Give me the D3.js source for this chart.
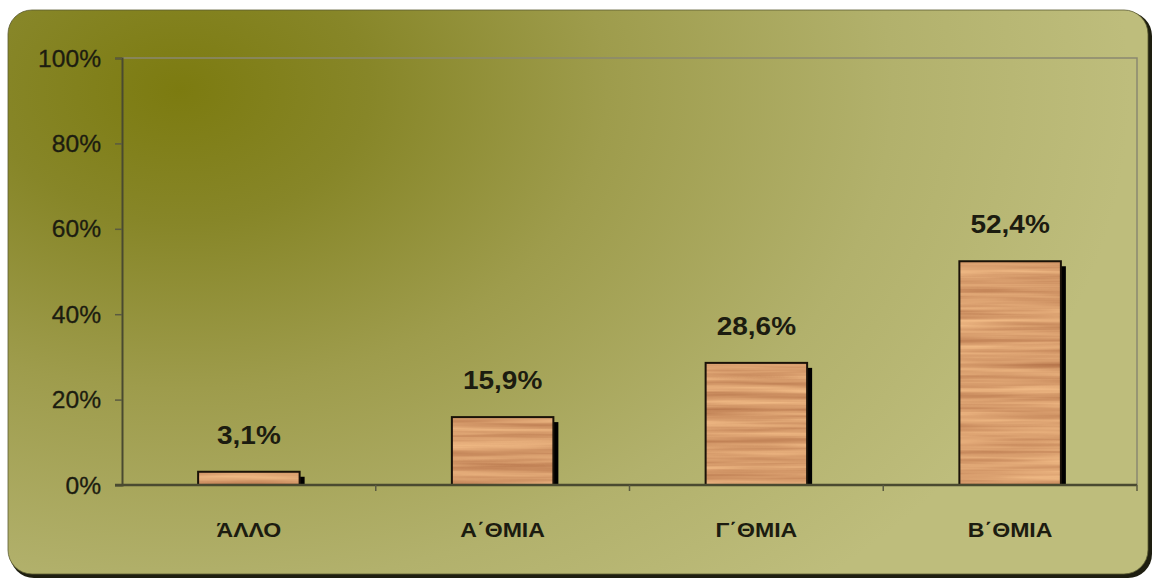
<!DOCTYPE html>
<html>
<head>
<meta charset="utf-8">
<script src="https://cdn.jsdelivr.net/npm/d3@7"></script>
<style>
  body { margin: 0; background: #fff; }
  svg { display: block; }
</style>
</head>
<body>
<div id="chart"></div>
<script>
// chart data
var categories = ['ΆΛΛΟ', 'Α΄ΘΜΙΑ', 'Γ΄ΘΜΙΑ', 'Β΄ΘΜΙΑ'];
var values = [3.1, 15.9, 28.6, 52.4];
var valueLabels = ['3,1%', '15,9%', '28,6%', '52,4%'];
var yTicks = [0, 20, 40, 60, 80, 100];

var width = 1158, height = 580;
var margin = {left: 122, right: 21, top: 58, bottom: 95};
var font = 'Liberation Sans, Arial, sans-serif';

var svg = d3.select('#chart').append('svg')
  .attr('width', width).attr('height', height);

var defs = svg.append('defs');

// olive background, dark in the upper left
var bg = defs.append('radialGradient').attr('id', 'bgGrad')
  .attr('gradientUnits', 'userSpaceOnUse')
  .attr('cx', 180).attr('cy', 90).attr('r', 950)
  .attr('gradientTransform', 'translate(180,90) scale(1,0.7) translate(-180,-90)');
bg.append('stop').attr('offset', 0).attr('stop-color', '#7c7b10');
bg.append('stop').attr('offset', 0.2).attr('stop-color', '#878628');
bg.append('stop').attr('offset', 0.45).attr('stop-color', '#9e9c4c');
bg.append('stop').attr('offset', 0.75).attr('stop-color', '#b2b16c');
bg.append('stop').attr('offset', 1).attr('stop-color', '#bebd7c');

// wood grain
var wood = defs.append('filter').attr('id', 'wood')
  .attr('x', 0).attr('y', 0).attr('width', 1).attr('height', 1)
  .attr('color-interpolation-filters', 'sRGB');
wood.append('feTurbulence').attr('type', 'fractalNoise')
  .attr('baseFrequency', '0.005 0.16').attr('numOctaves', 3).attr('seed', 7)
  .attr('result', 'noise');
wood.append('feColorMatrix').attr('in', 'noise').attr('type', 'matrix')
  .attr('values', '0.32 0 0 0 0.69  0.38 0 0 0 0.43  0.32 0 0 0 0.27  0 0 0 0 1')
  .attr('result', 'grain');
wood.append('feComposite').attr('in', 'grain').attr('in2', 'SourceGraphic')
  .attr('operator', 'in');

// panel with shadow edge
svg.append('rect')
  .attr('x', 10).attr('y', 12).attr('width', 1142).attr('height', 566)
  .attr('rx', 24).attr('fill', '#1e1e10');
svg.append('rect')
  .attr('x', 8).attr('y', 10).attr('width', 1140).attr('height', 564)
  .attr('rx', 24).attr('fill', 'url(#bgGrad)')
  .attr('stroke', '#5a5a30').attr('stroke-width', 0.8);

var x = d3.scaleBand().domain(categories)
  .range([margin.left, width - margin.right]).paddingInner(0.6).paddingOuter(0.3);
var xb = d3.scaleBand().domain(categories)
  .range([margin.left, width - margin.right]);
var y = d3.scaleLinear().domain([0, 100]).range([height - margin.bottom, margin.top]);

// plot frame (top and right)
svg.append('path')
  .attr('d', 'M' + margin.left + ',' + y(100) + 'H' + (width - margin.right) + 'V' + y(0))
  .attr('fill', 'none').attr('stroke', '#8a8870').attr('stroke-width', 1.5);

// bars: shadow then textured body
var bars = svg.append('g');
bars.selectAll('rect.shadow').data(values).enter().append('rect')
  .attr('class', 'shadow')
  .attr('x', (d, i) => x(categories[i]) + 5)
  .attr('y', d => y(d) + 5)
  .attr('width', x.bandwidth())
  .attr('height', d => y(0) - y(d) - 5)
  .attr('fill', '#000');
bars.selectAll('rect.body').data(values).enter().append('rect')
  .attr('class', 'body')
  .attr('x', (d, i) => x(categories[i]))
  .attr('y', d => y(d))
  .attr('width', x.bandwidth())
  .attr('height', d => y(0) - y(d))
  .attr('fill', '#d8a070').attr('filter', 'url(#wood)');
bars.selectAll('rect.edge').data(values).enter().append('rect')
  .attr('class', 'edge')
  .attr('x', (d, i) => x(categories[i]))
  .attr('y', d => y(d))
  .attr('width', x.bandwidth())
  .attr('height', d => y(0) - y(d))
  .attr('fill', 'none').attr('stroke', '#1a1208').attr('stroke-width', 2);

// value labels (slightly wide, like the source)
svg.selectAll('text.val').data(values).enter().append('text')
  .attr('class', 'val')
  .attr('transform', (d, i) => 'translate(' + (x(categories[i]) + x.bandwidth() / 2) + ',' + (y(d) - 28) + ') scale(1.12,1)')
  .attr('text-anchor', 'middle')
  .attr('font-family', font)
  .attr('font-size', '25px').attr('font-weight', 'bold').attr('fill', '#1c1c10')
  .text((d, i) => valueLabels[i]);

// y axis
var yAxis = svg.append('g')
  .attr('transform', 'translate(' + margin.left + ',0)')
  .call(d3.axisLeft(y).tickValues(yTicks).tickFormat(d => d + '%').tickSize(7).tickPadding(0));
yAxis.select('.domain').attr('stroke', '#4a4a30').attr('stroke-width', 2);
yAxis.selectAll('.tick line').attr('stroke', '#5a5a40').attr('stroke-width', 1.5);
yAxis.selectAll('.tick text')
  .attr('x', null).attr('dy', null)
  .attr('transform', 'translate(-21,8) scale(1.07,1)')
  .attr('font-family', font)
  .attr('font-size', '23px').attr('fill', '#1c1c10')
  .attr('stroke', '#1c1c10').attr('stroke-width', 0.3);

// x axis line with boundary ticks
var baseY = y(0);
svg.append('line')
  .attr('x1', margin.left - 7).attr('x2', width - margin.right)
  .attr('y1', baseY).attr('y2', baseY)
  .attr('stroke', '#4a4a30').attr('stroke-width', 2.5);
svg.selectAll('line.xtick').data(categories.slice(1).concat(['end'])).enter().append('line')
  .attr('class', 'xtick')
  .attr('x1', (d, i) => margin.left + xb.bandwidth() * (i + 1))
  .attr('x2', (d, i) => margin.left + xb.bandwidth() * (i + 1))
  .attr('y1', baseY).attr('y2', baseY + 6)
  .attr('stroke', '#5a5a40').attr('stroke-width', 1.5);

// category labels
svg.selectAll('text.cat').data(categories).enter().append('text')
  .attr('class', 'cat')
  .attr('transform', d => 'translate(' + (xb(d) + xb.bandwidth() / 2) + ',' + (baseY + 52) + ') scale(1.1,1)')
  .attr('text-anchor', 'middle')
  .attr('font-family', font)
  .attr('font-size', '21px').attr('font-weight', 'bold').attr('fill', '#1c1c10')
  .text(d => d);
</script>
</body>
</html>
